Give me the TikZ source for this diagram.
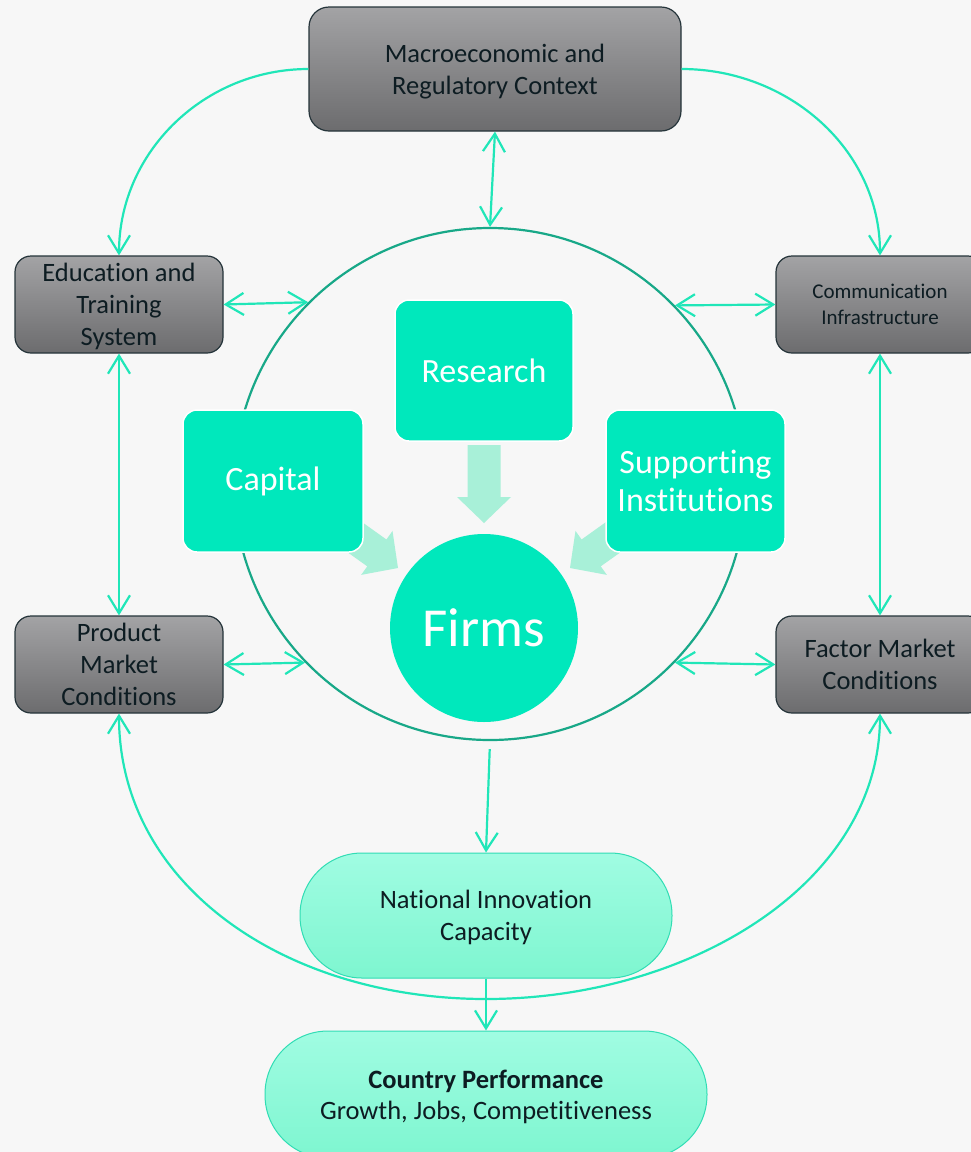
\documentclass[tikz,border=0pt]{standalone}
\usepackage{fontspec}
\setmainfont{Carlito}[Ligatures=NoCommon]
\usetikzlibrary{arrows.meta,shapes.geometric}
\definecolor{bg}{HTML}{F7F7F7}
\definecolor{gtop}{HTML}{A3A3A5}
\definecolor{gbot}{HTML}{6C6C6E}
\definecolor{grayborder}{HTML}{25343A}
\definecolor{darktext}{HTML}{0D1C22}
\definecolor{tealfill}{HTML}{00E8BC}
\definecolor{fatcol}{HTML}{A8F0D8}
\definecolor{ringcol}{HTML}{18A888}
\definecolor{conncol}{HTML}{20E6B8}
\definecolor{pilltop}{HTML}{A0FCE2}
\definecolor{pillbot}{HTML}{7EF6D0}
\definecolor{pillborder}{HTML}{30DDB4}
\newcommand\tstr{\rule{0pt}{0.952em}}
\newcommand\bstr{\rule[-0.269em]{0pt}{0.269em}}
\newcommand\fatarrow[4]{%
  \fill[fatcol, shift={(#1,#2)}, rotate=#3] (0,0) -- (-26,27) -- (-26,16.5) -- (-#4,16.5) -- (-#4,-16.5) -- (-26,-16.5) -- (-26,-27) -- cycle;}
\begin{document}
\begin{tikzpicture}[x=1pt,y=-1pt,
  graybox/.style={rounded corners=16pt, draw=grayborder, line width=1.2pt, top color=gtop, bottom color=gbot, text=darktext, align=center, inner sep=0pt, font=\fontsize{26.5}{32}\selectfont},
  tealbox/.style={rounded corners=14pt, draw=white, line width=1.5pt, fill=tealfill, text=white, align=center, inner sep=0pt, font=\fontsize{34}{38}\selectfont},
  pill/.style={draw=pillborder, line width=1pt, top color=pilltop, bottom color=pillbot, text=darktext, align=center, inner sep=0pt},
  conn/.style={draw=conncol, line width=2.2pt},
  tip/.style={-{Straight Barb[length=18pt,width=22pt]}},
  dbl/.style={conn, {Straight Barb[length=18pt,width=22pt]}-{Straight Barb[length=18pt,width=22pt]}}
]
\path[use as bounding box, fill=bg] (0,0) rectangle (971,1152);

% ring
\node[circle, draw=ringcol, line width=2.2pt, minimum size=512pt, inner sep=0pt] (ring) at (490,484) {};

% fat arrows
\fatarrow{484}{523}{-90}{78}
\fatarrow{398}{568}{-35.5}{70}
\fatarrow{570}{568}{-144.5}{70}

% teal boxes
\node[tealbox, minimum width=178pt, minimum height=141pt] (research) at (484,370.5) {Research};
\node[tealbox, minimum width=180pt, minimum height=142pt] (capital) at (273,481) {Capital};
\node[tealbox, minimum width=179pt, minimum height=142pt] (support) at (695.5,481) {Supporting\\Institutions};
\node[circle, fill=tealfill, minimum size=188pt, inner sep=0pt, text=white, font=\fontsize{55}{60}\selectfont] (firms) at (484,628) {Firms};

% gray boxes
\node[graybox, rounded corners=20pt, minimum width=372pt, minimum height=124pt] (macro) at (495,69) {\tstr Macroeconomic and\\Regulatory Context\bstr};
\node[graybox, minimum width=208pt, minimum height=97pt] (edu) at (119,304.5) {\tstr Education and\\Training\\System\bstr};
\node[graybox, minimum width=208pt, minimum height=97pt, font=\fontsize{21}{26}\selectfont] (comm) at (880,304.5) {\tstr Communication\\Infrastructure\bstr};
\node[graybox, minimum width=208pt, minimum height=97pt] (prod) at (119,664.5) {\tstr Product\\Market\\Conditions\bstr};
\node[graybox, minimum width=208pt, minimum height=97pt] (factor) at (880,664.5) {\tstr Factor Market\\Conditions\bstr};

% pills
\node[pill, rounded corners=62pt, minimum width=372pt, minimum height=125pt, font=\fontsize{26.5}{32}\selectfont] (nic) at (486,915.5) {\tstr National Innovation\\Capacity\bstr};
\node[pill, rounded corners=63pt, minimum width=442pt, minimum height=127pt, font=\fontsize{26.5}{31}\selectfont] (cp) at (486,1094.5) {\tstr\bfseries Country Performance\\Growth, Jobs, Competitiveness\bstr};

% connectors
\draw[dbl] (macro.south) -- (ring.north);
\draw[dbl] (edu.east) -- (ring.135.3);
\draw[dbl] (comm.west) -- (ring.44.7);
\draw[dbl] (prod.east) -- (ring.224.7);
\draw[dbl] (factor.west) -- (ring.-44.7);
\draw[dbl] (edu.south) -- (prod.north);
\draw[dbl] (comm.south) -- (factor.north);
\draw[conn, tip] (macro.west) to[out=180, in=90] (edu.north);
\draw[conn, tip] (macro.east) to[out=0, in=90] (comm.north);
\draw[conn, tip, shorten <=8pt] (ring.south) -- (nic.north);
\draw[conn, tip] (nic.south) -- (cp.north);
\coordinate (ubot) at (486,999);
\draw[dbl] (prod.south) .. controls (119,885) and (285,999) .. (ubot) .. controls (687,999) and (880,885) .. (factor.south);
\end{tikzpicture}
\end{document}
